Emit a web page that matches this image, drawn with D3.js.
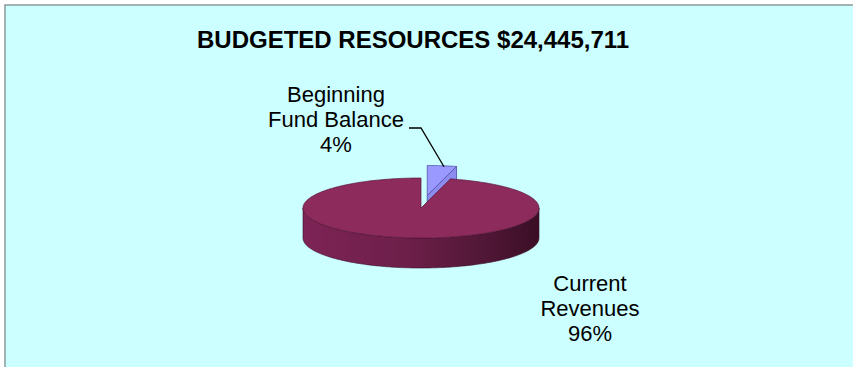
<!DOCTYPE html>
<html>
<head>
<meta charset="utf-8">
<script src="https://cdn.jsdelivr.net/npm/d3@7/dist/d3.min.js"></script>
<style>
  html, body { margin: 0; padding: 0; background: #ffffff; }
  svg { display: block; }
  text { font-family: Arial, "Liberation Sans", sans-serif; fill: #000; }
</style>
</head>
<body>
<svg id="chart" width="853" height="367"></svg>
<script>
// Budgeted resources split (percent of total)
const title = "BUDGETED RESOURCES $24,445,711";
const categories = ["Beginning Fund Balance", "Current Revenues"];
const labelLines = [["Beginning", "Fund Balance"], ["Current", "Revenues"]];
const percents = [4, 96];
const sliceColors = ["#9999FF", "#8C2B5C"];

const W = 853, H = 367;
const svg = d3.select("#chart");

// chart area background and frame
svg.append("rect").attr("x", 5).attr("y", 5).attr("width", W).attr("height", H)
  .attr("fill", "#CCFFFF").attr("stroke", "#8A9A9A").attr("stroke-width", 1.5);

svg.append("text").attr("x", 197).attr("y", 48)
  .attr("font-size", 24).attr("font-weight", "bold")
  .text(title);

// 3D pie geometry: top face ellipse, depth of the wall
const cx = 421, cy = 208, rx = 118, ry = 30, depth = 30;
const explode = [0.42, 0];

const pie = d3.pie().sort(null).value(d => d)(percents);

const pt = (a, off, dy = 0) => [cx + off[0] + rx * Math.sin(a), cy + off[1] - ry * Math.cos(a) + dy];
function arcPts(a0, a1, off, dy = 0) {
  const n = Math.max(2, Math.ceil(Math.abs(a1 - a0) / 0.02));
  return d3.range(n + 1).map(i => pt(a0 + (a1 - a0) * i / n, off, dy));
}
const line = d3.line();

const defs = svg.append("defs");
const grad = defs.append("linearGradient").attr("id", "wallGrad")
  .attr("gradientUnits", "userSpaceOnUse")
  .attr("x1", cx - rx).attr("x2", cx + rx).attr("y1", 0).attr("y2", 0);
grad.append("stop").attr("offset", 0).attr("stop-color", "#7E2456");
grad.append("stop").attr("offset", 0.45).attr("stop-color", "#6C1F49");
grad.append("stop").attr("offset", 0.8).attr("stop-color", "#4E1634");
grad.append("stop").attr("offset", 1).attr("stop-color", "#3A0E25");

const offsets = pie.map((d, i) => {
  const mid = (d.startAngle + d.endAngle) / 2;
  return [Math.sin(mid) * explode[i] * rx, -Math.cos(mid) * explode[i] * ry];
});

// draw back slice (exploded) first, then the front slice over it
[0, 1].forEach(i => {
  const d = pie[i], off = offsets[i], g = svg.append("g");
  const c = [cx + off[0], cy + off[1]];
  if (i === 0) {
    // cut face at the end angle, facing front-right
    const r = pt(d.endAngle, off);
    g.append("path")
      .attr("d", line([c, r, [r[0], r[1] + depth], [c[0], c[1] + depth]]) + "Z")
      .attr("fill", "#8C8CEE").attr("stroke", "#4A4AA0").attr("stroke-width", 0.8);
  } else {
    // front wall, visible between 90° and 270°
    const a0 = Math.max(d.startAngle, Math.PI / 2), a1 = Math.min(d.endAngle, 3 * Math.PI / 2);
    const top = arcPts(a0, a1, off), bot = arcPts(a1, a0, off, depth);
    g.append("path").attr("d", line(top.concat(bot)) + "Z")
      .attr("fill", "url(#wallGrad)").attr("stroke", "#3A0E25").attr("stroke-width", 0.6);
  }
  const topFace = [c].concat(arcPts(d.startAngle, d.endAngle, off));
  g.append("path").attr("d", line(topFace) + "Z")
    .attr("fill", sliceColors[i])
    .attr("stroke", i === 0 ? "#4A4AA0" : "#5A1638").attr("stroke-width", 0.7);
});

// data labels
const labelPos = [[336, 102], [590, 291]];
const lh = 25;
labelPos.forEach((p, i) => {
  const t = svg.append("text").attr("text-anchor", "middle").attr("font-size", 22);
  labelLines[i].concat([percents[i] + "%"]).forEach((s, k) => {
    t.append("tspan").attr("x", p[0]).attr("y", p[1] + k * lh).text(s);
  });
});

// leader line to the small slice
const tip = pt((pie[0].startAngle + pie[0].endAngle) / 2, offsets[0]);
svg.append("path")
  .attr("d", line([[409, 128], [421, 128], [tip[0] + 2, tip[1] + 1]]))
  .attr("fill", "none").attr("stroke", "#000").attr("stroke-width", 1.3);
</script>
</body>
</html>
